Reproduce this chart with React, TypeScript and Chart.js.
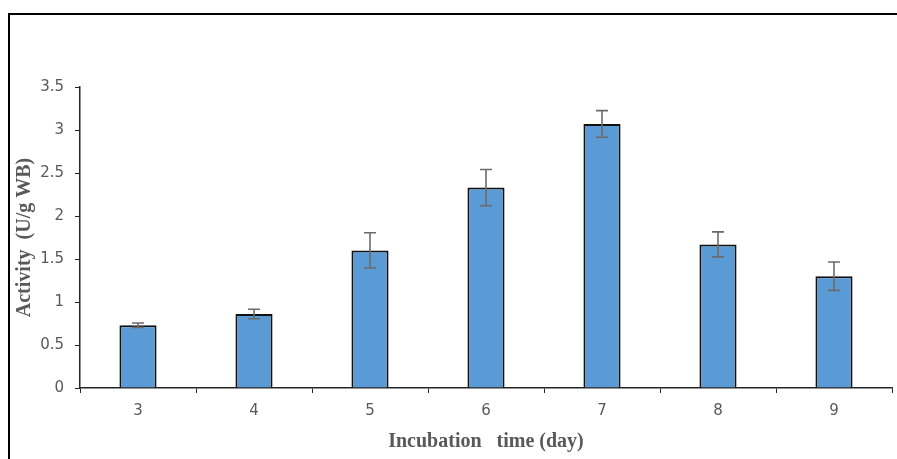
import React, { useEffect, useRef } from "react";
import { Chart, registerables } from "chart.js";

Chart.register(...registerables);

const days: string[] = ["3", "4", "5", "6", "7", "8", "9"];
const activity: number[] = [0.73, 0.86, 1.6, 2.33, 3.07, 1.67, 1.3];
const errors: number[] = [0.025, 0.055, 0.205, 0.21, 0.155, 0.145, 0.165];

const xTitle = "Incubation   time (day)";
const yTitle = "Activity  (U/g WB)";

const axisColor = "#262626";
const textColor = "#595959";

const framePlugin = {
  id: "frame",
  beforeDraw(chart: any) {
    const ctx = chart.ctx;
    ctx.save();
    ctx.strokeStyle = "#000";
    ctx.lineWidth = 2;
    ctx.beginPath();
    ctx.moveTo(9, chart.height);
    ctx.lineTo(9, 14);
    ctx.lineTo(chart.width, 14);
    ctx.stroke();
    ctx.restore();
  },
};

const errorBarPlugin = {
  id: "errorBars",
  afterDatasetsDraw(chart: any) {
    const ctx = chart.ctx;
    const yScale = chart.scales.y;
    const meta = chart.getDatasetMeta(0);
    ctx.save();
    ctx.strokeStyle = "#6b6b6b";
    ctx.lineWidth = 1.6;
    meta.data.forEach((bar: any, i: number) => {
      const v = activity[i];
      const e = errors[i];
      const x = bar.x;
      const yTop = yScale.getPixelForValue(v + e);
      const yBot = yScale.getPixelForValue(v - e);
      const cap = 6;
      ctx.beginPath();
      ctx.moveTo(x, yTop);
      ctx.lineTo(x, yBot);
      ctx.moveTo(x - cap, yTop);
      ctx.lineTo(x + cap, yTop);
      ctx.moveTo(x - cap, yBot);
      ctx.lineTo(x + cap, yBot);
      ctx.stroke();
    });
    ctx.restore();
  },
};

export default function App() {
  const ref = useRef<HTMLCanvasElement | null>(null);

  useEffect(() => {
    if (!ref.current) return;
    const chart = new Chart(ref.current, {
      type: "bar",
      data: {
        labels: days,
        datasets: [
          {
            data: activity,
            backgroundColor: "#5B9BD5",
            borderColor: "#111",
            borderWidth: 2,
            categoryPercentage: 1,
            barPercentage: 0.32,
          },
        ],
      },
      options: {
        responsive: false,
        animation: false,
        layout: { padding: { top: 87, right: 5, left: 0, bottom: 0 } },
        plugins: {
          legend: { display: false },
          tooltip: { enabled: false },
        },
        scales: {
          x: {
            afterFit(scale: any) {
              scale.height = 71;
            },
            grid: {
              display: true,
              drawOnChartArea: false,
              drawTicks: true,
              tickLength: 5,
              color: axisColor,
              offset: true,
            },
            border: { display: true, color: axisColor, width: 1.5 },
            ticks: {
              color: textColor,
              font: { family: "DejaVu Sans", size: 15 },
              padding: 9,
            },
            title: {
              display: true,
              text: xTitle,
              color: textColor,
              font: { family: "Liberation Serif", size: 20, weight: "bold" },
              padding: { top: 0, bottom: 5 },
            },
          },
          y: {
            min: 0,
            max: 3.5,
            afterFit(scale: any) {
              scale.width = 80;
            },
            grid: {
              display: true,
              drawOnChartArea: false,
              drawTicks: true,
              tickLength: 5,
              color: axisColor,
            },
            border: { display: true, color: axisColor, width: 1.5 },
            ticks: {
              stepSize: 0.5,
              color: textColor,
              font: { family: "DejaVu Sans", size: 15 },
              padding: 11,
              callback: (v: any) => String(Number(v)),
            },
            title: {
              display: true,
              text: yTitle,
              color: textColor,
              font: { family: "Liberation Serif", size: 20, weight: "bold" },
              padding: { top: 13, bottom: 0 },
            },
          },
        },
      },
      plugins: [framePlugin, errorBarPlugin],
    } as any);
    return () => chart.destroy();
  }, []);

  return (
    <div style={{ position: "fixed", left: 0, top: 0, width: 897, height: 459, background: "#fff" }}>
      <canvas ref={ref} width={897} height={459} style={{ display: "block" }} />
    </div>
  );
}
